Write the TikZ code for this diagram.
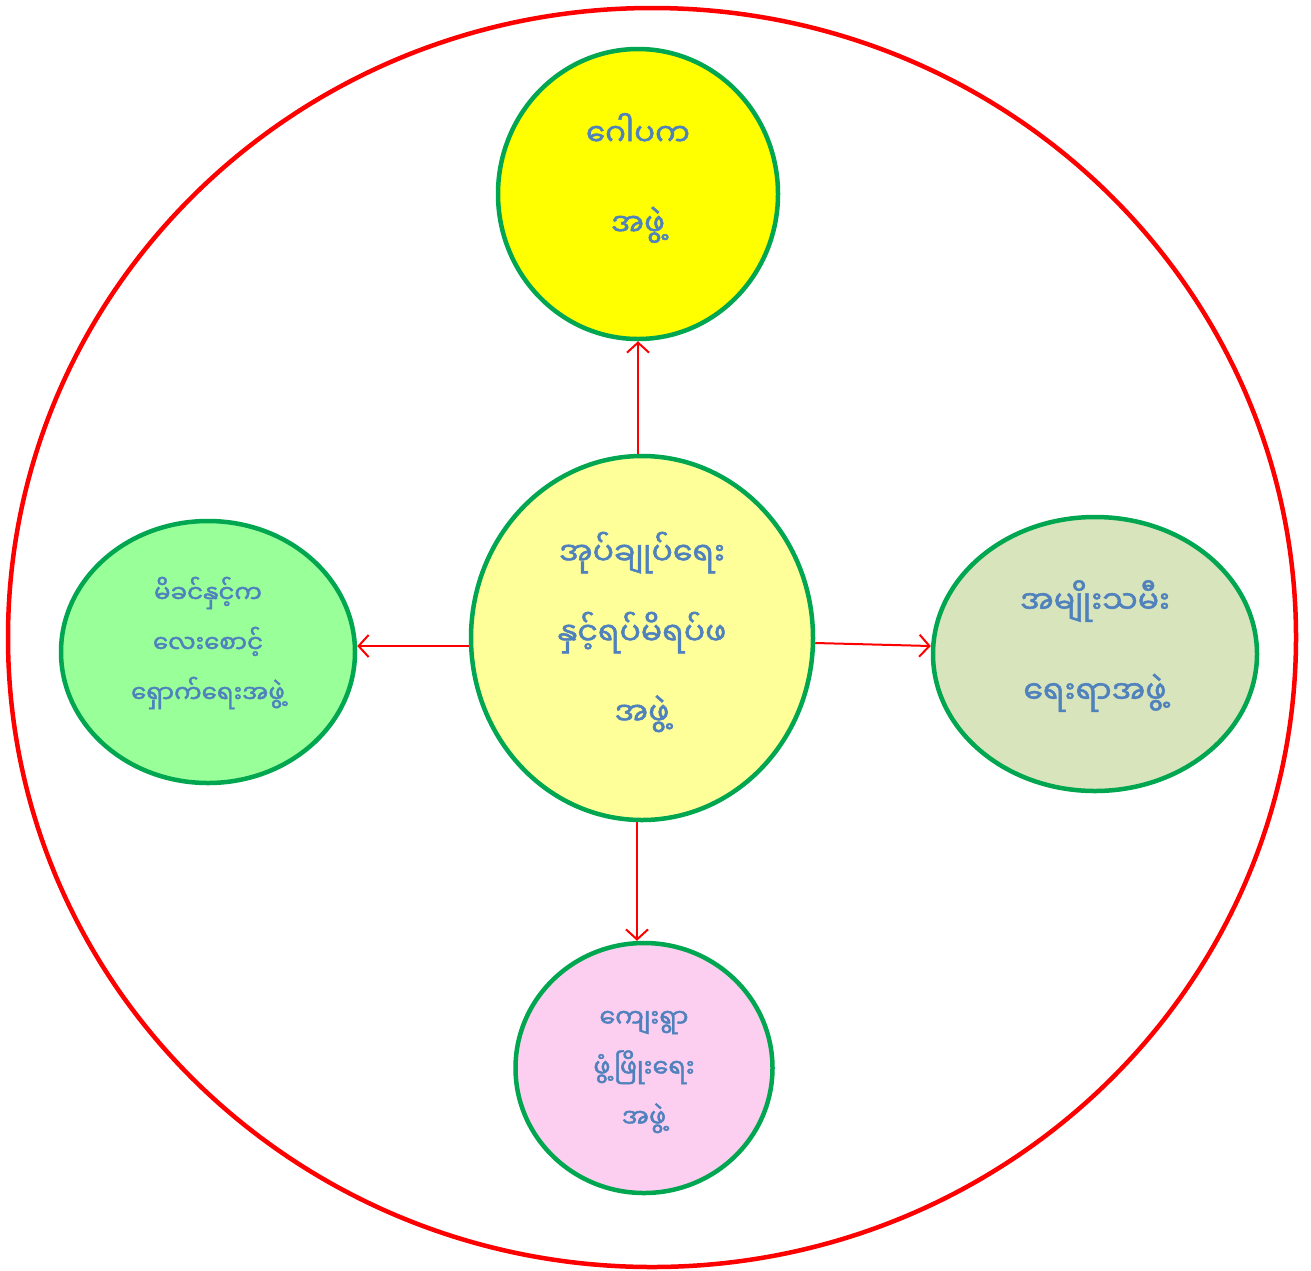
\documentclass[tikz,border=0pt]{standalone}
\usepackage{fontspec}
\newfontfamily\mya[Script=Myanmar,FakeBold=1.6]{Noto Sans Myanmar UI}
\usetikzlibrary{shapes.geometric,arrows.meta}
\definecolor{txtblue}{HTML}{4F81BD}
\definecolor{brdgreen}{HTML}{00A650}
\definecolor{tfill}{HTML}{FFFF00}
\definecolor{cfill}{HTML}{FFFF99}
\definecolor{lfill}{HTML}{99FF99}
\definecolor{rfill}{HTML}{D8E4BC}
\definecolor{bfill}{HTML}{FCCFF0}
\tikzset{
  org/.style={ellipse, draw=brdgreen, line width=4.5pt, inner sep=0pt},
  lbl/.style={text=txtblue, align=center},
  arr/.style={draw=red, line width=2pt, -{Straight Barb[length=10pt,width=22pt,line width=2pt]}}
}
\begin{document}
\begin{tikzpicture}[x=1pt,y=-1pt]
\useasboundingbox (0,0) rectangle (1311,1270);
\node[ellipse, draw=red, line width=4.5pt, minimum width=1288pt, minimum height=1259pt, inner sep=0pt] (outer) at (652,637.5) {};
\node[org, fill=tfill, minimum width=280pt, minimum height=290pt] (top) at (638,194) {};
\node[org, fill=cfill, minimum width=342pt, minimum height=364pt] (center) at (642,638) {};
\node[org, fill=lfill, minimum width=294pt, minimum height=262pt] (left) at (208,652) {};
\node[org, fill=rfill, minimum width=324pt, minimum height=274pt] (right) at (1095,654) {};
\node[org, fill=bfill, minimum width=257pt, minimum height=250pt] (bottom) at (644,1068) {};

\node[lbl, font=\mya\fontsize{31}{90}\selectfont] (ttop) at (638,178) {ဂေါပက\\အဖွဲ့};
\node[lbl, font=\mya\fontsize{31.5}{80}\selectfont] (tcenter) at (642,632) {အုပ်ချုပ်ရေး\\နှင့်ရပ်မိရပ်ဖ\\အဖွဲ့};
\node[lbl, font=\mya\fontsize{24.5}{50}\selectfont] (tleft) at (208,643) {မိခင်နှင့်က\\လေးစောင့်\\ရှောက်ရေးအဖွဲ့};
\node[lbl, font=\mya\fontsize{31.5}{90}\selectfont] (tright) at (1095,646) {အမျိုးသမီး\\ရေးရာအဖွဲ့};
\node[lbl, font=\mya\fontsize{25.5}{50}\selectfont] (tbottom) at (644,1072) {ကျေးရွာ\\ဖွံ့ဖြိုးရေး\\အဖွဲ့};

\draw[arr] (center.north -| top.south) -- (top.south);
\draw[arr] (center.west |- 0,646) -- (left.east |- 0,646);
\draw[arr] (center.east |- 0,643) -- (right.west |- 0,646);
\draw[arr] (637,0 |- center.south) -- (637,0 |- bottom.north);
\end{tikzpicture}
\end{document}
